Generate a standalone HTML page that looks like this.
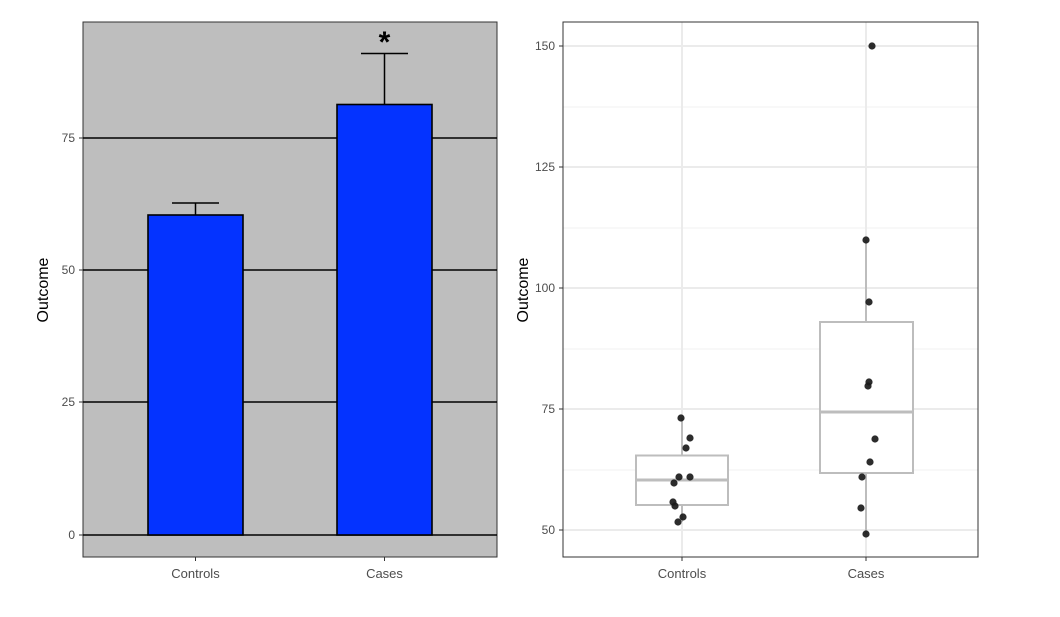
<!DOCTYPE html>
<html><head><style>body{margin:0;background:#fff}svg text{font-family:"Liberation Sans",sans-serif}</style></head><body>
<svg width="1060" height="612" xmlns="http://www.w3.org/2000/svg">
<rect width="1060" height="612" fill="#fff"/>
<!-- Left panel -->
<rect x="83" y="22" width="414" height="535" fill="#bebebe" stroke="#333" stroke-width="1"/>
<g stroke="#000" stroke-width="1.6">
<line x1="83" y1="535" x2="497" y2="535"/><line x1="83" y1="402" x2="497" y2="402"/>
<line x1="83" y1="270" x2="497" y2="270"/><line x1="83" y1="138" x2="497" y2="138"/>
</g>
<g stroke="#000" stroke-width="1.5">
<line x1="195.5" y1="215" x2="195.5" y2="203"/><line x1="172" y1="203" x2="219" y2="203"/>
<line x1="384.5" y1="104" x2="384.5" y2="53.5"/><line x1="361" y1="53.5" x2="408" y2="53.5"/>
</g>
<rect x="148" y="215" width="95" height="320" fill="#0433ff" stroke="#000" stroke-width="1.6"/>
<rect x="337" y="104.5" width="95" height="430.5" fill="#0433ff" stroke="#000" stroke-width="1.6"/>
<text x="384.5" y="52" font-size="30" text-anchor="middle" font-weight="bold">*</text>
<g font-size="12" fill="#4d4d4d" text-anchor="end">
<text x="75" y="539">0</text><text x="75" y="406">25</text><text x="75" y="274">50</text><text x="75" y="142">75</text>
</g>
<g stroke="#333"><line x1="79" y1="535" x2="83" y2="535"/><line x1="79" y1="402" x2="83" y2="402"/><line x1="79" y1="270" x2="83" y2="270"/><line x1="79" y1="138" x2="83" y2="138"/>
<line x1="195.5" y1="557" x2="195.5" y2="561"/><line x1="384.5" y1="557" x2="384.5" y2="561"/></g>
<g font-size="13" fill="#4d4d4d" text-anchor="middle"><text x="195.5" y="578">Controls</text><text x="384.5" y="578">Cases</text></g>
<text transform="translate(48,290) rotate(-90)" font-size="16" text-anchor="middle">Outcome</text>
<!-- Right panel -->
<rect x="563" y="22" width="415" height="535" fill="#fff"/>
<g stroke="#f0f0f0" stroke-width="1"><line x1="563" y1="107" x2="978" y2="107"/><line x1="563" y1="228" x2="978" y2="228"/><line x1="563" y1="349" x2="978" y2="349"/><line x1="563" y1="470" x2="978" y2="470"/></g>
<g stroke="#ebebeb" stroke-width="2"><line x1="563" y1="46" x2="978" y2="46"/><line x1="563" y1="167" x2="978" y2="167"/><line x1="563" y1="288" x2="978" y2="288"/><line x1="563" y1="409" x2="978" y2="409"/><line x1="563" y1="530" x2="978" y2="530"/>
<line x1="682" y1="22" x2="682" y2="557"/><line x1="866" y1="22" x2="866" y2="557"/></g>
<g stroke="#bdbdbd" stroke-width="2" fill="#fff">
<line x1="682" y1="418" x2="682" y2="455"/><line x1="682" y1="505" x2="682" y2="522"/>
<rect x="636" y="455.5" width="92" height="49.5"/><line x1="636" y1="480" x2="728" y2="480" stroke-width="3"/>
<line x1="866" y1="240" x2="866" y2="322"/><line x1="866" y1="473" x2="866" y2="534"/>
<rect x="820" y="322" width="93" height="151"/><line x1="820" y1="412" x2="913" y2="412" stroke-width="3"/>
</g>
<g fill="#1a1a1a" fill-opacity="0.92">
<circle cx="681" cy="418" r="3.6"/><circle cx="690" cy="438" r="3.6"/><circle cx="686" cy="448" r="3.6"/><circle cx="679" cy="477" r="3.6"/><circle cx="690" cy="477" r="3.6"/><circle cx="674" cy="483" r="3.6"/><circle cx="673" cy="502" r="3.6"/><circle cx="675" cy="506" r="3.6"/><circle cx="683" cy="517" r="3.6"/><circle cx="678" cy="522" r="3.6"/>
<circle cx="872" cy="46" r="3.6"/><circle cx="866" cy="240" r="3.6"/><circle cx="869" cy="302" r="3.6"/><circle cx="869" cy="382" r="3.6"/><circle cx="868" cy="386" r="3.6"/><circle cx="875" cy="439" r="3.6"/><circle cx="870" cy="462" r="3.6"/><circle cx="862" cy="477" r="3.6"/><circle cx="861" cy="508" r="3.6"/><circle cx="866" cy="534" r="3.6"/>
</g>
<rect x="563" y="22" width="415" height="535" fill="none" stroke="#333" stroke-width="1"/>
<g font-size="12" fill="#4d4d4d" text-anchor="end">
<text x="555" y="50">150</text><text x="555" y="171">125</text><text x="555" y="292">100</text><text x="555" y="413">75</text><text x="555" y="534">50</text>
</g>
<g stroke="#333"><line x1="559" y1="46" x2="563" y2="46"/><line x1="559" y1="167" x2="563" y2="167"/><line x1="559" y1="288" x2="563" y2="288"/><line x1="559" y1="409" x2="563" y2="409"/><line x1="559" y1="530" x2="563" y2="530"/>
<line x1="682" y1="557" x2="682" y2="561"/><line x1="866" y1="557" x2="866" y2="561"/></g>
<g font-size="13" fill="#4d4d4d" text-anchor="middle"><text x="682" y="578">Controls</text><text x="866" y="578">Cases</text></g>
<text transform="translate(528,290) rotate(-90)" font-size="16" text-anchor="middle">Outcome</text>
</svg>
</body></html>
